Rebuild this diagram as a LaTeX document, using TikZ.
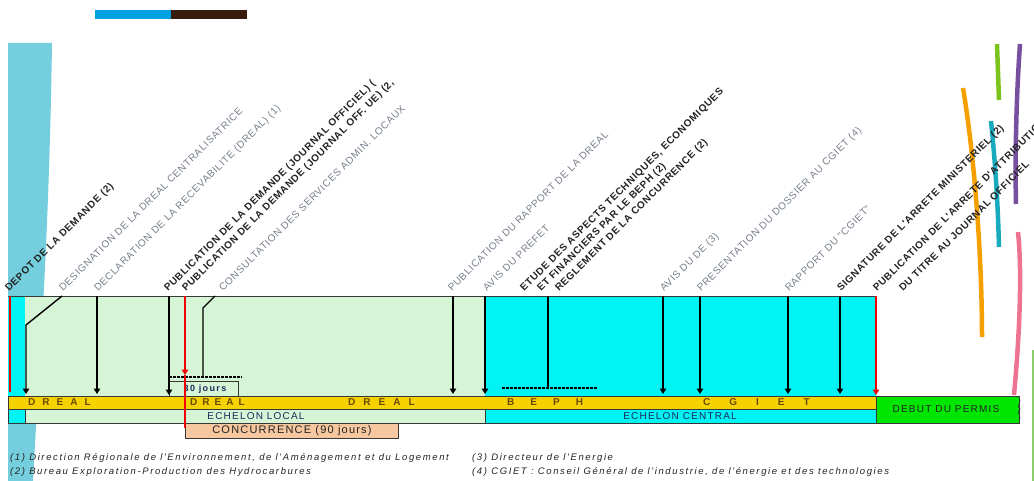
\documentclass[tikz,border=0pt]{standalone}
\usepackage{fontspec}
\setmainfont{Liberation Sans}
\newfontfamily\lblfont[LetterSpace=7]{Liberation Sans}
\newfontfamily\notefont[LetterSpace=17]{Liberation Sans}
\newfontfamily\rowfont[LetterSpace=12]{Liberation Sans}
\newfontfamily\concfont[LetterSpace=11]{Liberation Sans}
\newfontfamily\daysfont[LetterSpace=15]{Liberation Sans}
\usetikzlibrary{arrows.meta}

\definecolor{stripblue}{RGB}{116,206,222}
\definecolor{barblue}{RGB}{0,160,225}
\definecolor{barbrown}{RGB}{58,28,14}
\definecolor{localgreen}{RGB}{214,245,214}
\definecolor{centralcyan}{RGB}{0,244,244}
\definecolor{dealgold}{RGB}{246,210,0}
\definecolor{goldtext}{RGB}{105,75,0}
\definecolor{navytext}{RGB}{30,40,90}
\definecolor{permisgreen}{RGB}{0,230,0}
\definecolor{concpeach}{RGB}{247,200,160}
\definecolor{markred}{RGB}{240,0,0}
\definecolor{labelgray}{RGB}{118,126,138}
\definecolor{labeldark}{RGB}{35,35,35}
\definecolor{edge}{RGB}{55,55,55}
\definecolor{arcorange}{RGB}{245,160,0}
\definecolor{arclime}{RGB}{125,195,30}
\definecolor{arcpurple}{RGB}{120,80,160}
\definecolor{arcteal}{RGB}{25,170,190}
\definecolor{arcpink}{RGB}{238,115,145}
\definecolor{notegreen}{RGB}{140,205,110}

\tikzset{
  lbl/.style={rotate=45, anchor=base west, inner sep=0pt,
    font=\lblfont\fontsize{10}{12}\selectfont},
  lbldark/.style={lbl, text=labeldark, font=\lblfont\bfseries\fontsize{10}{12}\selectfont},
  lblgray/.style={lbl, text=labelgray},
  cell/.style={draw=edge, line width=0.9pt},
  evt/.style={draw=black, line width=1.4pt, -{Triangle[width=6.5pt,length=5.5pt]}},
  evtplain/.style={draw=black, line width=1.4pt},
  redevt/.style={draw=markred, line width=1.6pt, -{Triangle[width=6.5pt,length=5.5pt]}},
  rowtext/.style={inner sep=0pt, anchor=west, font=\bfseries\fontsize{10}{11}\selectfont, text=goldtext},
  echtext/.style={inner sep=0pt, font=\rowfont\fontsize{10}{11}\selectfont, text=navytext},
  note/.style={anchor=base west, inner sep=0pt, text=labeldark,
    font=\notefont\itshape\fontsize{9.5}{11}\selectfont},
  arc/.style={line width=4.5pt, line cap=butt},
}
\newcommand{\gp}[1]{\hspace{#1}}

\begin{document}
\begin{tikzpicture}[x=1pt,y=-1pt]
\useasboundingbox (0,0) rectangle (1034,481);

% heading bars
\fill[barblue] (95,10) rectangle (171,19);
\fill[barbrown] (171,10) rectangle (247,19);

% tapering blue strip on the left
\fill[stripblue] (8,43) -- (52,43) .. controls (49,250) and (38,380) .. (33,481) -- (8,481) -- cycle;

% decorative arcs on the right
\draw[arc, arcorange] (963,88) .. controls (975,160) and (982,260) .. (982,337);
\draw[arc, arclime] (997,44) -- (999,100);
\draw[arc, arcpurple] (1020,44) .. controls (1016,100) and (1015,160) .. (1016,204);
\draw[arc, arcteal] (991,121) .. controls (996,170) and (998,210) .. (999,247);
\draw[arc, arcpink] (1018,232) .. controls (1022,270) and (1020,330) .. (1014,395);
\draw[notegreen, line width=1.2pt] (1033,350) -- (1033,481);

% upper band: local and central phases
\fill[centralcyan] (8,296) rectangle (25,396);
\fill[localgreen] (25,296) rectangle (485,396);
\fill[centralcyan] (485,296) rectangle (876,396);
\draw[edge, line width=0.9pt] (8,296) -- (876,296);

% authority bar
\node[cell, fill=dealgold, minimum width=868pt, minimum height=13pt, anchor=north west, inner sep=0pt] (bar) at (8,396) {};
\node[rowtext] (dreal1) at (28,402.5) {D\gp{7pt}R\gp{7pt}E\gp{7pt}A\gp{7pt}L};
\node[rowtext] (dreal2) at (190,402.5) {D\gp{5pt}R\gp{5pt}E\gp{5pt}A\gp{5pt}L};
\node[rowtext] (dreal3) at (348,402.5) {D\gp{8pt}R\gp{8pt}E\gp{8pt}A\gp{8pt}L};
\node[rowtext] (beph) at (507,402.5) {B\gp{16pt}E\gp{16pt}P\gp{16pt}H};
\node[rowtext] (cgiet) at (703,402.5) {C\gp{19pt}G\gp{19pt}I\gp{19pt}E\gp{19pt}T};

% echelon row
\node[cell, fill=centralcyan, minimum width=17pt, minimum height=14pt, anchor=north west, inner sep=0pt] (echleft) at (8,409) {};
\node[cell, fill=localgreen, minimum width=460pt, minimum height=14pt, anchor=north west, inner sep=0pt] (echlocal) at (25,409) {};
\node[cell, fill=centralcyan, minimum width=391pt, minimum height=14pt, anchor=north west, inner sep=0pt] (echcentral) at (485,409) {};
\node[echtext] (txtlocal) at (256,416.5) {ECHELON LOCAL};
\node[echtext] (txtcentral) at (680,416.5) {ECHELON CENTRAL};

% start of the permit
\node[cell, fill=permisgreen, minimum width=143pt, minimum height=27pt, anchor=north west, inner sep=0pt] (permis) at (876,396) {};
\node[inner sep=0pt, font=\rowfont\fontsize{10}{11}\selectfont, text=labeldark] (txtpermis) at (946,409.5) {DEBUT DU PERMIS};
\draw[edge, line width=0.9pt] (1019,398) .. controls (1022,402) and (1016,406) .. (1020,409) .. controls (1016,412) and (1022,417) .. (1019,421);

% competition period
\node[cell, fill=concpeach, minimum width=213pt, minimum height=15pt, anchor=north west, inner sep=0pt] (conc) at (185,423) {};
\node[inner sep=0pt, font=\concfont\fontsize{11}{12}\selectfont, text=labeldark] (txtconc) at (292,430.5) {CONCURRENCE (90 jours)};

% 30-day box
\draw[black, line width=1.6pt, dash pattern=on 3pt off 1pt] (169,377) -- (242,377);
\node[draw=edge, line width=0.8pt, minimum width=69pt, minimum height=15pt, anchor=north west, inner sep=0pt] (trente) at (169,381) {};
\node[inner sep=0pt, font=\daysfont\bfseries\fontsize{9}{10}\selectfont, text=navytext] (txttrente) at (205,389) {30 jours};

% dashed span under the BEPH study
\draw[black, line width=1.2pt, dash pattern=on 3pt off 1pt] (502,388) -- (598,388);

% event markers
\coordinate (t1) at (62,296);  \coordinate (k1) at (26,325);  \coordinate (b1) at (26,394);
\coordinate (t2) at (97,296);  \coordinate (b2) at (97,394);
\coordinate (t3) at (169,296); \coordinate (b3) at (169,395);
\coordinate (t4) at (185,296); \coordinate (m4) at (185,375); \coordinate (b4) at (185,428);
\coordinate (t5) at (215,296); \coordinate (k5) at (203,308); \coordinate (b5) at (203,377);
\coordinate (t6) at (453,296); \coordinate (b6) at (453,394);
\coordinate (t7) at (485,296); \coordinate (b7) at (485,394);
\coordinate (t8) at (548,296); \coordinate (b8) at (548,388);
\coordinate (t9) at (663,296); \coordinate (b9) at (663,394);
\coordinate (t10) at (700,296); \coordinate (b10) at (700,394);
\coordinate (t11) at (788,296); \coordinate (b11) at (788,394);
\coordinate (t12) at (840,296); \coordinate (b12) at (840,394);
\coordinate (t13) at (876,296); \coordinate (b13) at (876,395);
\coordinate (t0) at (9.5,296); \coordinate (b0) at (9.5,392);

\draw[markred, line width=2pt] (t0) -- (b0);
\draw[evt] (t1) -- (k1) -- (b1);
\draw[evt] (t2) -- (b2);
\draw[evt, line width=2.4pt] (t3) -- (b3);
\draw[redevt] (t4) -- (m4);
\draw[markred, line width=1.6pt] (m4) -- (b4);
\draw[evtplain] (t5) -- (k5) -- (b5);
\draw[evt] (t6) -- (b6);
\draw[evt] (t7) -- (b7);
\draw[evtplain] (t8) -- (b8);
\draw[evt] (t9) -- (b9);
\draw[evt] (t10) -- (b10);
\draw[evt] (t11) -- (b11);
\draw[evt] (t12) -- (b12);
\draw[redevt, line width=2.2pt] (t13) -- (b13);

% event labels
\node[lbldark] (l1) at (9,292) {DEPOT DE LA DEMANDE (2)};
\node[lblgray] (l2) at (63,292) {DESIGNATION DE LA DREAL CENTRALISATRICE};
\node[lblgray] (l3) at (98,292) {DECLARATION DE LA RECEVABILITE (DREAL) (1)};
\node[lbldark] (l4) at (168,292) {PUBLICATION DE LA DEMANDE (JOURNAL OFFICIEL) (};
\node[lbldark] (l5) at (186,292) {PUBLICATION DE LA DEMANDE (JOURNAL OFF. UE) (2,};
\node[lblgray] (l6) at (223,292) {CONSULTATION DES SERVICES ADMIN. LOCAUX};
\node[lblgray] (l7) at (452,292) {PUBLICATION DU RAPPORT DE LA DREAL};
\node[lblgray] (l8) at (487,292) {AVIS DU PREFET};
\node[lbldark] (l9) at (524,292) {ETUDE DES ASPECTS TECHNIQUES, ECONOMIQUES};
\node[lbldark] (l10) at (541,292) {ET FINANCIERS PAR LE BEPH (2)};
\node[lbldark] (l11) at (559,292) {REGLEMENT DE LA CONCURRENCE (2)};
\node[lblgray] (l12) at (664,292) {AVIS DU DE (3)};
\node[lblgray] (l13) at (701,292) {PRESENTATION DU DOSSIER AU CGIET (4)};
\node[lblgray] (l14) at (789,292) {RAPPORT DU "CGIET"};
\node[lbldark] (l15) at (841,292) {SIGNATURE DE L'ARRETE MINISTERIEL (2)};
\node[lbldark] (l16) at (877,292) {PUBLICATION DE L'ARRETE D'ATTRIBUTION};
\node[lbldark] (l17) at (903,292) {DU TITRE AU JOURNAL OFFICIEL};

% footnotes
\node[note] (n1) at (10,460) {(1) Direction Régionale de l'Environnement, de l'Aménagement et du Logement};
\node[note] (n2) at (10,474) {(2) Bureau Exploration-Production des Hydrocarbures};
\node[note] (n3) at (472,460) {(3) Directeur de l'Energie};
\node[note] (n4) at (472,474) {(4) CGIET : Conseil Général de l'industrie, de l'énergie et des technologies};
\end{tikzpicture}
\end{document}
